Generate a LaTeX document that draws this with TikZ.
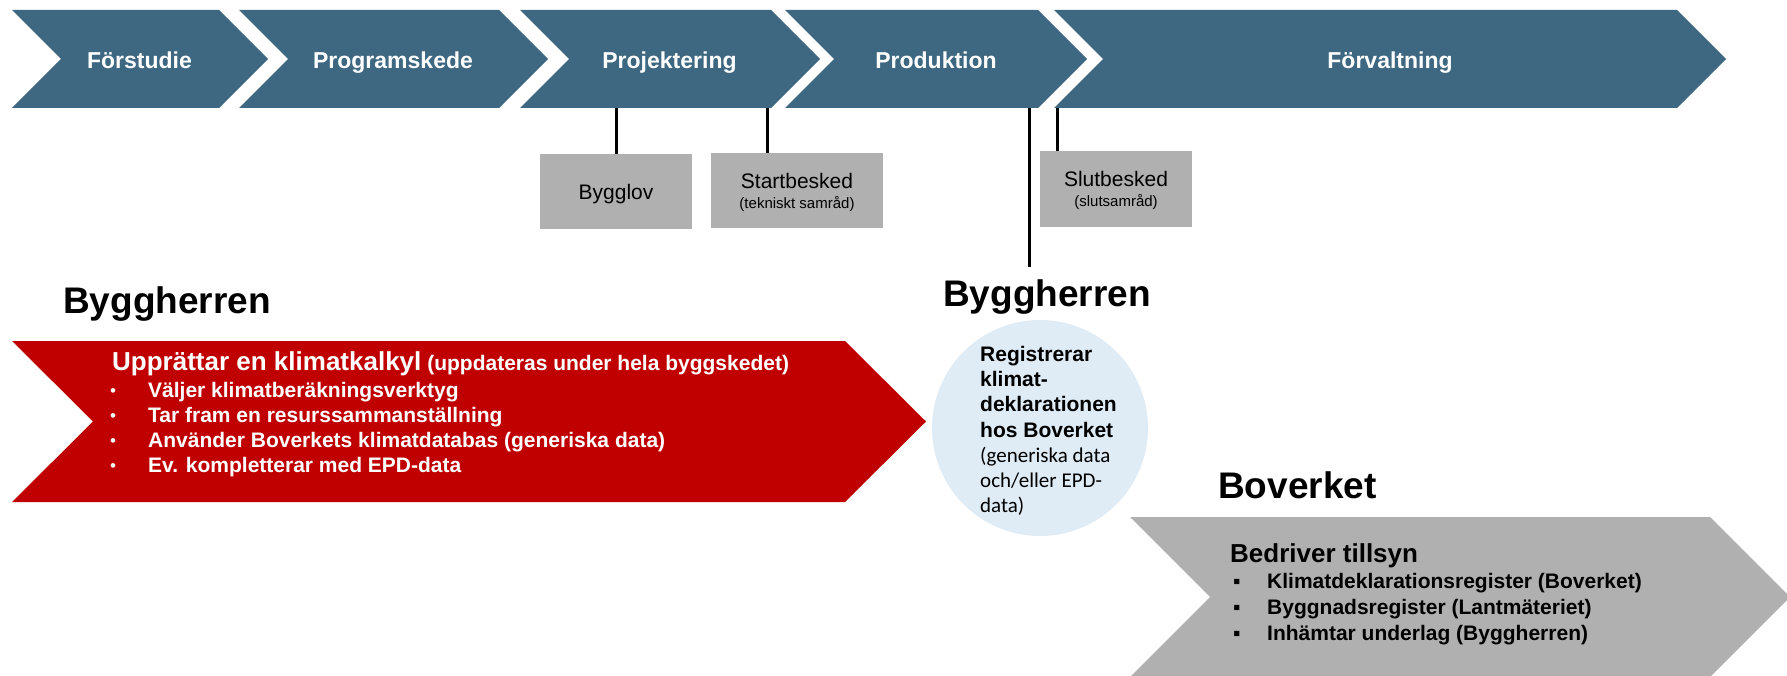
\documentclass[tikz,border=0pt]{standalone}
\usepackage{fontspec}
\setmainfont{Liberation Sans}
\newfontfamily\calfont{Carlito}
\definecolor{phaseblue}{RGB}{62,104,130}
\definecolor{climred}{RGB}{192,0,0}
\definecolor{boxgray}{RGB}{176,176,176}
\definecolor{circblue}{RGB}{223,235,245}
\newcommand\phasechev[2]{\fill[phaseblue] (#1,10) -- (#2,10) -- ({#2+49},59) -- (#2,108) -- (#1,108) -- ({#1+49},59) -- cycle;}
\tikzset{
  phaselabel/.style={font=\bfseries\fontsize{23}{27}\selectfont, text=white, anchor=base, inner sep=0pt},
  milestone/.style={fill=boxgray, inner sep=0pt},
  msmain/.style={font=\fontsize{21}{25}\selectfont, anchor=base, inner sep=0pt},
  mssub/.style={font=\fontsize{15}{18}\selectfont, anchor=base, inner sep=0pt},
  tick/.style={line width=3pt, black},
  heading/.style={font=\bfseries\fontsize{37}{44}\selectfont, anchor=base west, inner sep=0pt},
  redtxt/.style={font=\bfseries\fontsize{21}{25}\selectfont, text=white, anchor=base west, inner sep=0pt},
  redbullet/.style={font=\fontsize{17}{20}\selectfont, text=white, anchor=base west, inner sep=0pt},
  graytxt/.style={font=\bfseries\fontsize{21}{25}\selectfont, text=black, anchor=base west, inner sep=0pt},
  graybullet/.style={font=\fontsize{21}{25}\selectfont, text=black, anchor=base west, inner sep=0pt},
  circbold/.style={font=\bfseries\fontsize{21}{25}\selectfont, anchor=base west, inner sep=0pt},
  circreg/.style={font=\calfont\fontsize{21}{25}\selectfont, anchor=base west, inner sep=0pt},
}
\begin{document}
\begin{tikzpicture}[x=1pt,y=-1pt]
\useasboundingbox (0,0) rectangle (1787,676);

% phase chevrons
\phasechev{12}{219}
\phasechev{239}{499}
\phasechev{520}{771}
\phasechev{785}{1038}
\phasechev{1054}{1677}
\node[phaselabel] (forstudie) at (139.5,69) {Förstudie};
\node[phaselabel] (program) at (393,69) {Programskede};
\node[phaselabel] (projekt) at (669.5,69) {Projektering};
\node[phaselabel] (produktion) at (936,69) {Produktion};
\node[phaselabel] (forvaltning) at (1390,69) {Förvaltning};

% milestone boxes
\node[milestone, minimum width=152pt, minimum height=75pt] (bygglov) at (616,191.5) {};
\node[msmain] (bygglovtxt) at (616,200) {Bygglov};
\node[milestone, minimum width=172pt, minimum height=75pt] (start) at (797,190.5) {};
\node[msmain] (starttxt) at (797,189) {Startbesked};
\node[mssub] (startsub) at (797,209) {(tekniskt samråd)};
\node[milestone, minimum width=152pt, minimum height=76pt] (slut) at (1116,189) {};
\node[msmain] (sluttxt) at (1116,187) {Slutbesked};
\node[mssub] (slutsub) at (1116,207) {(slutsamråd)};

% ticks
\coordinate (t1) at (616,108);
\coordinate (t2) at (767,108);
\coordinate (t3) at (1029,108);
\coordinate (t3end) at (1029,267);
\coordinate (t4) at (1057,108);
\draw[tick] (t1) -- (t1 |- bygglov.north);
\draw[tick] (t2) -- (t2 |- start.north);
\draw[tick] (t3) -- (t3end);
\draw[tick] (t4) -- (t4 |- slut.north);

% headings
\node[heading] (bh1) at (63,313) {Byggherren};
\node[heading] (bh2) at (943,306) {Byggherren};
\node[heading] (bov) at (1218,498) {Boverket};

% red chevron
\fill[climred] (12,341) -- (845,341) -- (926,421.5) -- (845,502) -- (12,502) -- (93,421.5) -- cycle;
\node[redtxt] (rtitle) at (112,370) {{\fontsize{26}{30}\selectfont Upprättar en klimatkalkyl} (uppdateras under hela byggskedet)};
\node[redbullet] (rb1) at (110,396) {•};
\node[redbullet] (rb2) at (110,421) {•};
\node[redbullet] (rb3) at (110,446) {•};
\node[redbullet] (rb4) at (110,471) {•};
\node[redtxt] (r1) at (148,397) {Väljer klimatberäkningsverktyg};
\node[redtxt] (r2) at (148,422) {Tar fram en resurssammanställning};
\node[redtxt] (r3) at (148,447) {Använder Boverkets klimatdatabas (generiska data)};
\node[redtxt] (r4) at (148,472) {Ev. kompletterar med EPD-data};

% circle
\node[circle, fill=circblue, minimum size=216pt, inner sep=0pt] (reg) at (1040,428) {};
\node[circbold] (c1) at (980,361) {Registrerar};
\node[circbold] (c2) at (980,386) {klimat-};
\node[circbold] (c3) at (980,411.5) {deklarationen};
\node[circbold] (c4) at (980,437) {hos Boverket};
\node[circreg] (c5) at (980,462) {(generiska data};
\node[circreg] (c6) at (980,487) {och/eller EPD-};
\node[circreg] (c7) at (980,512) {data)};

% gray chevron
\fill[boxgray] (1130,517) -- (1710,517) -- (1790,597) -- (1710,677) -- (1130,677) -- (1210,597) -- cycle;
\node[graytxt, font=\bfseries\fontsize{26}{30}\selectfont] (gtitle) at (1230,562) {Bedriver tillsyn};
\node[graybullet] (gb1) at (1233,588) {▪};
\node[graybullet] (gb2) at (1233,614) {▪};
\node[graybullet] (gb3) at (1233,640) {▪};
\node[graytxt] (g1) at (1267,588) {Klimatdeklarationsregister (Boverket)};
\node[graytxt] (g2) at (1267,614) {Byggnadsregister (Lantmäteriet)};
\node[graytxt] (g3) at (1267,640) {Inhämtar underlag (Byggherren)};
\end{tikzpicture}
\end{document}
